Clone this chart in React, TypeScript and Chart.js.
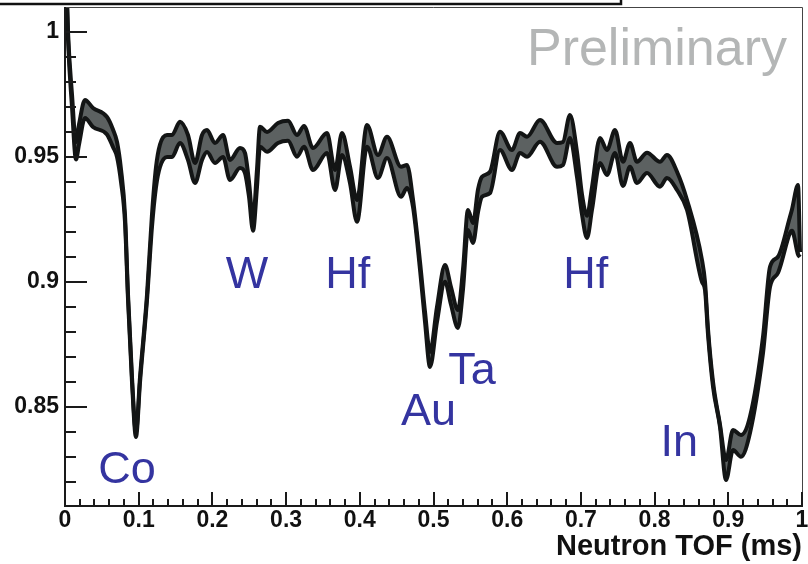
import React, { useEffect, useRef } from "react";
import { Chart, registerables } from "chart.js";

Chart.register(...registerables);

// Neutron time of flight (ms)
const tof = [
  0.001, 0.0041, 0.0095, 0.0149, 0.019, 0.0271, 0.038, 0.057, 0.0651, 0.0706,
  0.076, 0.0814, 0.0855, 0.0909, 0.0963, 0.1018, 0.1113, 0.118, 0.1235, 0.1289,
  0.1384, 0.1452, 0.156, 0.1669, 0.1764, 0.1859, 0.1927, 0.2035, 0.2144, 0.2239,
  0.2374, 0.2442, 0.2497, 0.2551, 0.2605, 0.2646, 0.2741, 0.289, 0.3026, 0.3148,
  0.3243, 0.3365, 0.3555, 0.3664, 0.3758, 0.3867, 0.3962, 0.4098, 0.4247, 0.4369,
  0.4559, 0.464, 0.4722, 0.4817, 0.4885, 0.4953, 0.5047, 0.5156, 0.5237, 0.5332,
  0.54, 0.5468, 0.5536, 0.5604, 0.5658, 0.5767, 0.5902, 0.6065, 0.6174, 0.6269,
  0.6445, 0.6676, 0.6757, 0.6852, 0.6947, 0.7015, 0.7083, 0.7151, 0.7259, 0.7354,
  0.7463, 0.7571, 0.7666, 0.7761, 0.7897, 0.8073, 0.8168, 0.8304, 0.844, 0.8643,
  0.8684, 0.8725, 0.8793, 0.8887, 0.8969, 0.9064, 0.9172, 0.9294, 0.9471, 0.9566,
  0.9674, 0.9837, 0.9864, 0.9946, 0.9973,
];

// Upper edge of the transmission band
const upperBand = [
  1.03, 1.0, 0.975, 0.956, 0.963, 0.9728, 0.9696, 0.966, 0.961, 0.956,
  0.945, 0.927, 0.895, 0.862, 0.84, 0.862, 0.895, 0.927, 0.946, 0.955,
  0.9588, 0.9588, 0.9641, 0.9588, 0.9476, 0.9588, 0.9608, 0.9556, 0.9588, 0.9488,
  0.9536, 0.9516, 0.94, 0.925, 0.945, 0.9621, 0.96, 0.9636, 0.9645, 0.9588,
  0.9624, 0.9536, 0.9596, 0.9448, 0.9596, 0.9461, 0.9328, 0.9628, 0.9508, 0.9581,
  0.9461, 0.9468, 0.933, 0.908, 0.888, 0.872, 0.89, 0.9068, 0.898, 0.8888,
  0.905, 0.9288, 0.9236, 0.937, 0.9421, 0.9441, 0.9601, 0.9528, 0.9596, 0.9581,
  0.9648, 0.9556, 0.956, 0.9668, 0.952, 0.935, 0.9265, 0.938, 0.9576, 0.9528,
  0.9608, 0.9481, 0.9556, 0.9481, 0.9517, 0.9481, 0.9508, 0.9441, 0.9328, 0.9088,
  0.9, 0.881, 0.86, 0.843, 0.8288, 0.8408, 0.8388, 0.8461, 0.8781, 0.9061,
  0.9101, 0.9261, 0.929, 0.9388, 0.912,
];

// Lower edge of the transmission band
const lowerBand = [
  1.03, 0.997, 0.97, 0.949, 0.955, 0.9656, 0.962, 0.959, 0.954, 0.95,
  0.94, 0.924, 0.893, 0.86, 0.838, 0.86, 0.893, 0.922, 0.938, 0.946,
  0.95, 0.95, 0.9556, 0.9488, 0.9396, 0.9488, 0.952, 0.9476, 0.95, 0.9408,
  0.9456, 0.9436, 0.934, 0.9205, 0.938, 0.9541, 0.9521, 0.9556, 0.9565, 0.9501,
  0.9541, 0.9448, 0.9516, 0.9368, 0.9508, 0.9396, 0.9241, 0.9541, 0.9416, 0.9496,
  0.9341, 0.9376, 0.93, 0.905, 0.884, 0.866, 0.884, 0.9001, 0.891, 0.8816,
  0.897, 0.9208, 0.9156, 0.928, 0.9341, 0.9356, 0.9528, 0.9448, 0.9516, 0.9501,
  0.9561, 0.9461, 0.9468, 0.9576, 0.942, 0.927, 0.9176, 0.929, 0.9476, 0.9428,
  0.9516, 0.9384, 0.9461, 0.9396, 0.9436, 0.9381, 0.9416, 0.9368, 0.9288, 0.9,
  0.8968, 0.879, 0.8581, 0.8421, 0.8208, 0.8328, 0.8301, 0.8396, 0.8716, 0.8981,
  0.9036, 0.9196, 0.9205, 0.911, 0.91,
];

const xMajorTicks = [0, 0.1, 0.2, 0.3, 0.4, 0.5, 0.6, 0.7, 0.8, 0.9, 1];
const xTickLabels = ["0", "0.1", "0.2", "0.3", "0.4", "0.5", "0.6", "0.7", "0.8", "0.9", "1"];
const xMinorTicks = [
  0.02, 0.04, 0.06, 0.08, 0.12, 0.14, 0.16, 0.18, 0.22, 0.24, 0.26, 0.28,
  0.32, 0.34, 0.36, 0.38, 0.42, 0.44, 0.46, 0.48, 0.52, 0.54, 0.56, 0.58,
  0.62, 0.64, 0.66, 0.68, 0.72, 0.74, 0.76, 0.78, 0.82, 0.84, 0.86, 0.88,
  0.92, 0.94, 0.96, 0.98,
];
const yMajorTicks = [0.85, 0.9, 0.95, 1];
const yTickLabels = ["0.85", "0.9", "0.95", "1"];
const yMinorTicks = [
  0.82, 0.83, 0.84, 0.86, 0.87, 0.88, 0.89, 0.91, 0.92, 0.93, 0.94,
  0.96, 0.97, 0.98, 0.99,
];

const X_MIN = 0;
const X_MAX = 1;
const Y_MIN = 0.81;
const Y_MAX = 1.01;

// Element labels (text, anchor in data units: left edge, baseline)
const elementNames = ["Co", "W", "Hf", "Au", "Ta", "Hf", "In"];
const elementX = [0.045, 0.218, 0.353, 0.456, 0.52, 0.676, 0.808];
const elementY = [0.8196, 0.8976, 0.8976, 0.8428, 0.8592, 0.8976, 0.8304];

const FONT = '"Liberation Sans", Arial, Helvetica, sans-serif';

const decorPlugin = {
  id: "decor",
  afterDatasetsDraw(chart: any) {
    const ctx = chart.ctx;
    const xs = chart.scales.x;
    const ys = chart.scales.y;
    ctx.save();
    // element labels
    ctx.font = `45px ${FONT}`;
    ctx.fillStyle = "#3434a0";
    ctx.textAlign = "left";
    ctx.textBaseline = "alphabetic";
    elementNames.forEach((t, i) => {
      ctx.fillText(t, xs.getPixelForValue(elementX[i]), ys.getPixelForValue(elementY[i]));
    });
    // Preliminary
    ctx.font = `52px ${FONT}`;
    ctx.fillStyle = "#b4b6b6";
    ctx.textAlign = "right";
    ctx.fillText("Preliminary", chart.chartArea.right - 15, 65);
    ctx.restore();
  },
  afterDraw(chart: any) {
    const ctx = chart.ctx;
    const { left, right, top, bottom } = chart.chartArea;
    const xs = chart.scales.x;
    const ys = chart.scales.y;
    ctx.save();
    // frame top & right
    ctx.strokeStyle = "#444";
    ctx.lineWidth = 1;
    ctx.beginPath();
    ctx.moveTo(left, top + 0.5);
    ctx.lineTo(right + 0.5, top + 0.5);
    ctx.lineTo(right + 0.5, bottom);
    ctx.stroke();
    // axes
    ctx.strokeStyle = "#1a1a1a";
    ctx.lineWidth = 2;
    ctx.beginPath();
    ctx.moveTo(left, top);
    ctx.lineTo(left, bottom - 1);
    ctx.lineTo(right + 1, bottom - 1);
    ctx.stroke();
    // y ticks
    ctx.beginPath();
    yMajorTicks.forEach((v) => {
      const p = Math.round(ys.getPixelForValue(v));
      ctx.moveTo(left, p);
      ctx.lineTo(left + 22, p);
    });
    yMinorTicks.forEach((v) => {
      const p = Math.round(ys.getPixelForValue(v));
      ctx.moveTo(left, p);
      ctx.lineTo(left + 11, p);
    });
    // x ticks
    xMajorTicks.forEach((v) => {
      const p = Math.round(xs.getPixelForValue(v));
      ctx.moveTo(p, bottom - 1);
      ctx.lineTo(p, bottom - 15);
    });
    xMinorTicks.forEach((v) => {
      const p = Math.round(xs.getPixelForValue(v));
      ctx.moveTo(p, bottom - 1);
      ctx.lineTo(p, bottom - 8);
    });
    ctx.stroke();
    // title box (cut off at top)
    ctx.strokeStyle = "#111";
    ctx.lineWidth = 2.5;
    ctx.strokeRect(-5, -20, 626, 24);
    ctx.restore();
  },
};

export default function App() {
  const ref = useRef<HTMLCanvasElement | null>(null);
  useEffect(() => {
    if (!ref.current) return;
    const upperPts = tof.map((x, i) => ({ x, y: upperBand[i] }));
    const lowerPts = tof.map((x, i) => ({ x, y: lowerBand[i] }));
    const chart = new Chart(ref.current, {
      type: "line",
      data: {
        datasets: [
          {
            label: "upper",
            data: upperPts,
            borderColor: "#131515",
            borderWidth: 4,
            backgroundColor: "#5c6161",
            fill: "+1",
            pointRadius: 0,
            cubicInterpolationMode: "monotone",
          },
          {
            label: "lower",
            data: lowerPts,
            borderColor: "#131515",
            borderWidth: 4,
            backgroundColor: "#5c6161",
            fill: false,
            pointRadius: 0,
            cubicInterpolationMode: "monotone",
          },
        ],
      },
      options: {
        animation: false,
        responsive: false,
        devicePixelRatio: 1,
        layout: { padding: { top: 7, right: 6, left: 0, bottom: 0 } },
        plugins: {
          legend: { display: false },
          tooltip: { enabled: false },
          title: { display: false },
          filler: { drawTime: "beforeDatasetsDraw" },
        },
        scales: {
          x: {
            type: "linear",
            min: X_MIN,
            max: X_MAX,
            grid: { display: false, drawTicks: false },
            border: { display: false },
            afterBuildTicks: (s: any) => {
              s.ticks = xMajorTicks.map((v) => ({ value: v }));
            },
            afterFit: (s: any) => {
              s.height = 57;
              s.paddingLeft = 0;
              s.paddingRight = 0;
            },
            ticks: {
              autoSkip: false,
              maxRotation: 0,
              padding: 0,
              color: "#111",
              font: { family: FONT, size: 23, weight: "bold" },
              callback: (v: any) => {
                const i = xMajorTicks.findIndex((t) => Math.abs(t - v) < 1e-6);
                return i >= 0 ? xTickLabels[i] : "";
              },
            },
            title: {
              display: true,
              text: "Neutron TOF (ms)",
              align: "end",
              color: "#111",
              font: { family: FONT, size: 29, weight: "bold" },
              padding: { top: 0, bottom: 0 },
            },
          },
          y: {
            type: "linear",
            min: Y_MIN,
            max: Y_MAX,
            grid: { display: false, drawTicks: false },
            border: { display: false },
            afterBuildTicks: (s: any) => {
              s.ticks = yMajorTicks.map((v) => ({ value: v }));
            },
            afterFit: (s: any) => {
              s.width = 65;
              s.paddingTop = 0;
              s.paddingBottom = 0;
            },
            ticks: {
              autoSkip: false,
              padding: 6,
              color: "#111",
              font: { family: FONT, size: 23, weight: "bold" },
              callback: (v: any) => {
                const i = yMajorTicks.findIndex((t) => Math.abs(t - v) < 1e-6);
                return i >= 0 ? yTickLabels[i] : "";
              },
            },
          },
        },
      },
      plugins: [decorPlugin],
    });
    return () => chart.destroy();
  }, []);
  return (
    <div style={{ position: "absolute", left: 0, top: 0, width: 808, height: 564, background: "#fff" }}>
      <canvas ref={ref} width={808} height={564} style={{ display: "block" }} />
    </div>
  );
}
